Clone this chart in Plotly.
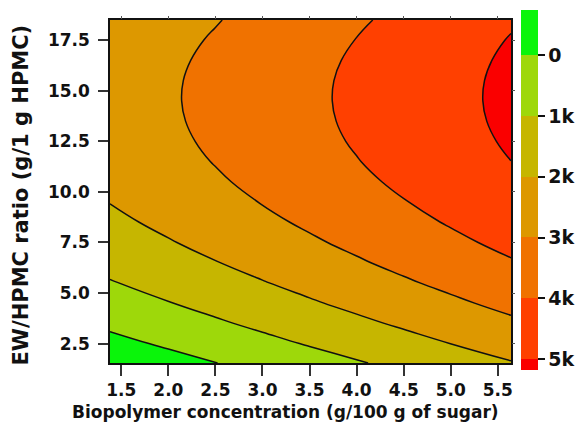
import plotly.graph_objects as go

# Biopolymer concentration (g/100 g of sugar)
x_vals = [1.38, 2.0, 2.5, 3.0, 3.5, 4.0, 4.5, 5.0, 5.64]
# EW/HPMC ratio (g/1 g HPMC)
y_vals = [1.54, 2.5, 3.5, 4.5, 5.5, 6.5, 7.5, 8.5, 9.5, 10.5, 11.5, 12.5,
          13.5, 14.5, 15.5, 16.5, 17.5, 18.5]
# response values (rows follow y_vals, columns follow x_vals)
z_vals = [
    [-714, -326, -14, 299, 611, 924, 1236, 1549, 1949],
    [-258, 129, 442, 754, 1067, 1379, 1692, 2004, 2404],
    [179, 567, 879, 1192, 1504, 1817, 2129, 2442, 2842],
    [580, 967, 1280, 1592, 1905, 2217, 2530, 2842, 3242],
    [942, 1330, 1642, 1955, 2267, 2580, 2892, 3205, 3605],
    [1268, 1655, 1968, 2280, 2593, 2905, 3218, 3530, 3930],
    [1556, 1943, 2256, 2568, 2881, 3193, 3506, 3818, 4218],
    [1806, 2194, 2506, 2819, 3131, 3444, 3756, 4069, 4469],
    [2019, 2407, 2719, 3032, 3344, 3657, 3969, 4282, 4682],
    [2195, 2583, 2895, 3208, 3520, 3833, 4145, 4458, 4858],
    [2334, 2721, 3034, 3346, 3659, 3971, 4284, 4596, 4996],
    [2435, 2822, 3135, 3447, 3760, 4072, 4385, 4697, 5097],
    [2498, 2886, 3198, 3511, 3823, 4136, 4448, 4761, 5161],
    [2524, 2912, 3224, 3537, 3849, 4162, 4474, 4787, 5187],
    [2513, 2901, 3213, 3526, 3838, 4151, 4463, 4776, 5176],
    [2464, 2852, 3164, 3477, 3789, 4102, 4414, 4727, 5127],
    [2378, 2766, 3078, 3391, 3703, 4016, 4328, 4641, 5041],
    [2255, 2643, 2955, 3268, 3580, 3893, 4205, 4518, 4918],
]
levels = [0, 1000, 2000, 3000, 4000, 5000]
level_labels = ["0", "1k", "2k", "3k", "4k", "5k"]
bar_min, bar_max = -740, 5180
x_ticks = [1.5, 2.0, 2.5, 3.0, 3.5, 4.0, 4.5, 5.0, 5.5]
y_ticks = [2.5, 5.0, 7.5, 10.0, 12.5, 15.0, 17.5]
x_title = "Biopolymer concentration (g/100 g of sugar)"
y_title = "EW/HPMC ratio (g/1 g HPMC)"

band_colors = ["#0af50a", "#9ed80a", "#c6b600", "#dd9800", "#f07200", "#ff4000", "#fa0000"]

n = len(band_colors)
contour_scale = [[i / (n - 1), c] for i, c in enumerate(band_colors)]

fig = go.Figure()
fig.add_trace(go.Contour(
    x=x_vals, y=y_vals, z=z_vals,
    contours=dict(start=levels[0], end=levels[-1], size=levels[1] - levels[0], coloring="fill"),
    colorscale=contour_scale,
    line=dict(color="#111111", width=1.5, smoothing=1.3),
    showscale=False, hoverinfo="skip",
))

# discrete colour bar (low values at the top, like the reference)
lo, hi = -bar_max, -bar_min
span = hi - lo
edges = [(-v - lo) / span for v in reversed(levels)]  # ascending positions
rev_colors = list(reversed(band_colors))
bar_scale = []
bounds = [0.0] + edges + [1.0]
for i, c in enumerate(rev_colors):
    bar_scale.append([bounds[i], c])
    bar_scale.append([bounds[i + 1], c])

FONT = "DejaVu Sans, Arial"
fig.add_trace(go.Scatter(
    x=[None], y=[None], mode="markers", hoverinfo="skip", showlegend=False,
    marker=dict(
        color=[lo], colorscale=bar_scale, cmin=lo, cmax=hi, showscale=True,
        colorbar=dict(
            x=1.0248, xanchor="left", xpad=0, y=0.504, yanchor="middle", ypad=0,
            thickness=17, len=360, lenmode="pixels", outlinewidth=0,
            tickvals=[-v for v in levels], ticktext=level_labels,
            ticks="outside", ticklen=7, tickwidth=1.5, tickcolor="#111111",
            tickfont=dict(family=FONT, size=19, color="#111111", weight="bold"),
        ),
    ),
))
# empty trace for the mirrored (top / right) small ticks
fig.add_trace(go.Scatter(x=[None], y=[None], xaxis="x2", yaxis="y2",
                         showlegend=False, hoverinfo="skip"))

tick_font = dict(family=FONT, size=17, color="#111111", weight="bold")
common = dict(showgrid=False, zeroline=False)
fig.update_layout(
    width=585, height=433,
    margin=dict(l=110, r=71, t=10, b=70),
    paper_bgcolor="white", plot_bgcolor="white",
    xaxis=dict(
        range=[x_vals[0], x_vals[-1]], tickvals=x_ticks, ticktext=[f"{v:.1f}" for v in x_ticks],
        ticks="outside", ticklen=11, tickwidth=1.5, tickcolor="#333333",
        showline=True, linecolor="#111111", linewidth=1.5, mirror=True,
        tickfont=tick_font, **common,
    ),
    yaxis=dict(
        range=[y_vals[0], y_vals[-1]], tickvals=y_ticks, ticktext=[f"{v:.1f}" for v in y_ticks],
        ticks="outside", ticklen=10, tickwidth=1.5, tickcolor="#333333", ticklabelstandoff=5,
        showline=True, linecolor="#111111", linewidth=1.5, mirror=True,
        tickfont=tick_font, **common,
    ),
    xaxis2=dict(
        overlaying="x", side="top", range=[x_vals[0], x_vals[-1]], tickvals=x_ticks,
        showticklabels=False, ticks="outside", ticklen=3, tickwidth=1, tickcolor="#555555",
        showline=False, **common,
    ),
    yaxis2=dict(
        overlaying="y", side="right", range=[y_vals[0], y_vals[-1]], tickvals=y_ticks,
        showticklabels=False, ticks="outside", ticklen=3, tickwidth=1, tickcolor="#555555",
        showline=False, **common,
    ),
    annotations=[
        dict(text=x_title, xref="paper", yref="paper", x=0.438, y=-0.143,
             xanchor="center", yanchor="middle", showarrow=False,
             font=dict(family=FONT, size=17, color="#111111", weight="bold")),
        dict(text=y_title, xref="paper", yref="paper", x=-0.223, y=0.49,
             xanchor="center", yanchor="middle", showarrow=False, textangle=-90,
             font=dict(family=FONT, size=21, color="#111111", weight="bold")),
    ],
)
fig.write_html("out.html")
